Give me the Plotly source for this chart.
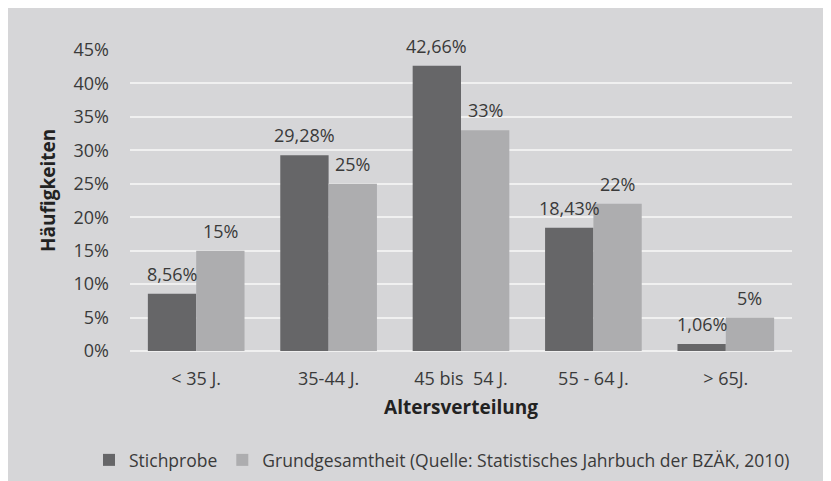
import plotly.graph_objects as go

categories = ["< 35 J.", "35-44 J.", "45 bis  54 J.", "55 - 64 J.", "> 65J."]
stichprobe = [0.0856, 0.2928, 0.4266, 0.1843, 0.0106]
grundgesamtheit = [0.15, 0.25, 0.33, 0.22, 0.05]
stichprobe_labels = ["8,56%", "29,28%", "42,66%", "18,43%", "1,06%"]
grund_labels = ["15%", "25%", "33%", "22%", "5%"]
y_ticks = [0, 0.05, 0.10, 0.15, 0.20, 0.25, 0.30, 0.35, 0.40, 0.45]
y_tick_labels = ["0%", "5%", "10%", "15%", "20%", "25%", "30%", "35%", "40%", "45%"]

FONT = "Open Sans"
TXT = "#3a3a3a"
DARK = "#666668"
LIGHT = "#adadaf"
BG = "#d6d6d8"

fig = go.Figure()
fig.add_trace(go.Bar(name="Stichprobe", x=categories, y=stichprobe, marker_color=DARK,
                     marker_line_width=0))
fig.add_trace(go.Bar(name="Grundgesamtheit (Quelle: Statistisches Jahrbuch der BZÄK, 2010)",
                     x=categories, y=grundgesamtheit, marker_color=LIGHT, marker_line_width=0))

W, H = 831, 481
L, T = 122, 42
pw, ph = 662, 301
R, B = W - L - pw, H - T - ph
OFF = 8  # page body margin

def px2x(p):
    return (p - OFF - L) / pw

def py2y(p):
    return (H - B - (p - OFF)) / ph

bargap = 0.27
half = (1 - bargap) / 4
annotations = []
for i, (v, t) in enumerate(zip(stichprobe, stichprobe_labels)):
    annotations.append(dict(x=i - half, y=v, xref="x", yref="y", text=t, showarrow=False,
                            yanchor="bottom", yshift=6, font=dict(family=FONT, size=18, color=TXT)))
for i, (v, t) in enumerate(zip(grundgesamtheit, grund_labels)):
    annotations.append(dict(x=i + half, y=v, xref="x", yref="y", text=t, showarrow=False,
                            yanchor="bottom", yshift=6, font=dict(family=FONT, size=18, color=TXT)))
# y axis title
annotations.append(dict(x=px2x(48), y=py2y(191), xref="paper", yref="paper", text="<b>Häufigkeiten</b>",
                        textangle=-90, showarrow=False, xanchor="center", yanchor="middle",
                        font=dict(family=FONT, size=19, color="#222")))

fig.update_layout(
    width=W, height=H,
    margin=dict(l=L, r=R, t=T, b=B, autoexpand=False),
    paper_bgcolor=BG, plot_bgcolor=BG,
    barmode="group", bargap=bargap, bargroupgap=0,
    font=dict(family=FONT, size=18, color=TXT),
    annotations=annotations,
    legend=dict(orientation="h", x=px2x(89), xanchor="left", y=py2y(460), yanchor="middle",
                font=dict(family=FONT, size=17.5, color=TXT), bgcolor="rgba(0,0,0,0)",
                itemwidth=30, tracegroupgap=0),
    showlegend=True,
    xaxis=dict(title=dict(text="<b>Altersverteilung</b>", font=dict(family=FONT, size=19, color="#222"),
                          standoff=11),
               showgrid=False, ticks="", ticklabelstandoff=15, automargin=False,
               tickfont=dict(family=FONT, size=18, color=TXT)),
    yaxis=dict(range=[0, 0.45], tickvals=y_ticks, ticktext=y_tick_labels,
               showgrid=True, gridcolor="#f0f0f0", gridwidth=2,
               zeroline=True, zerolinecolor="#f0f0f0", zerolinewidth=2,
               ticks="", ticklabelstandoff=20, automargin=False,
               tickfont=dict(family=FONT, size=18, color=TXT)),
)

fig.write_html("out.html")
